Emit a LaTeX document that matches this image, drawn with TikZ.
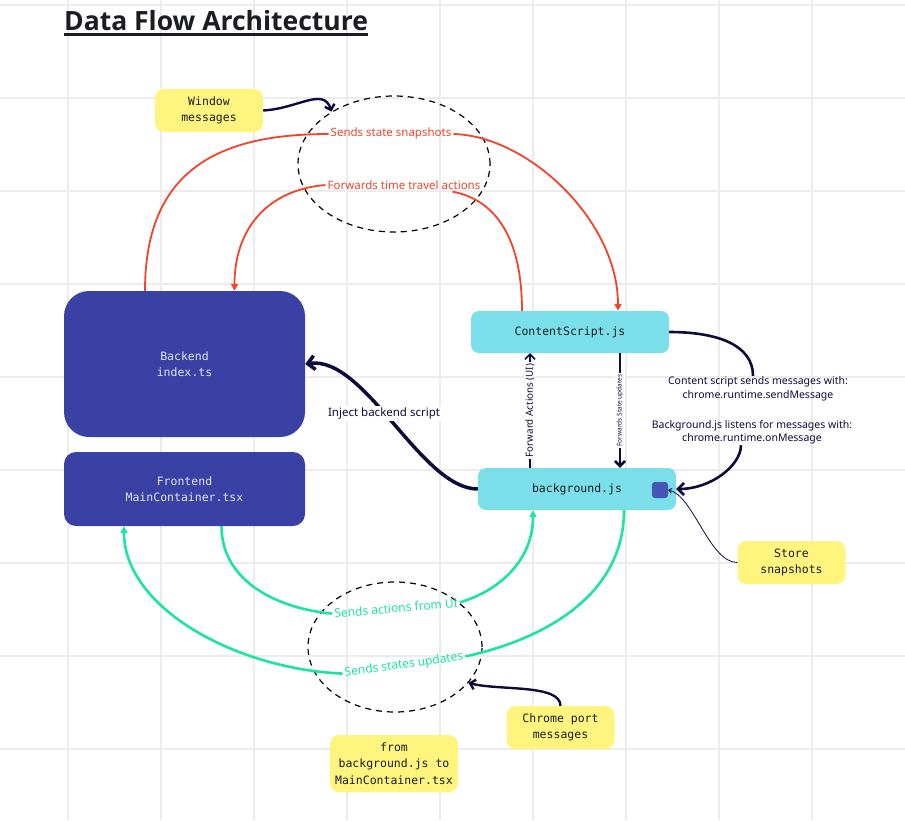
\documentclass[tikz,border=0pt]{standalone}
\usepackage{fontspec}
\setmainfont{Noto Sans}
\newfontfamily\codefont{DejaVu Sans Mono}
\newfontfamily\titlefont{Open Sans}
\usetikzlibrary{shapes.geometric,arrows.meta}

\definecolor{Indigo}{HTML}{3A41A5}
\definecolor{DarkText}{HTML}{E4E6F6}
\definecolor{Cyan}{HTML}{7ADFE8}
\definecolor{Yellow}{HTML}{FFF47E}
\definecolor{Ink}{HTML}{1C1C24}
\definecolor{Red}{HTML}{F5432B}
\definecolor{Green}{HTML}{1DE3A6}
\definecolor{Navy}{HTML}{0D0B3A}
\definecolor{Blue}{HTML}{4556B5}
\definecolor{Grid}{HTML}{ECECEC}

\newcommand{\Code}{\codefont\fontsize{11.5pt}{16pt}\selectfont}
\newcommand{\LabelFont}{\fontsize{11.5pt}{13pt}\selectfont}
\newcommand{\MsgFont}{\fontsize{10.5pt}{13.5pt}\selectfont}

\begin{document}
\begin{tikzpicture}[x=1pt,y=-1pt]
	\tikzstyle{Dark} = [rectangle, minimum width=241pt, align=center, fill=Indigo, text=DarkText, font=\Code]
	\tikzstyle{Box} = [rectangle, rounded corners=8pt, minimum width=198pt, minimum height=42pt, fill=Cyan, text=Ink, font=\Code]
	\tikzstyle{Note} = [rectangle, rounded corners=9pt, minimum width=108pt, minimum height=43pt, align=center, fill=Yellow, text=Ink, font=\Code]
	\tikzstyle{Cloud} = [ellipse, draw=black, line width=1.2pt, dash pattern=on 6pt off 5pt]
	\tikzstyle{Label} = [font=\LabelFont, inner sep=2pt]
	\tikzstyle{Msg} = [font=\MsgFont, text=Navy, align=center, inner sep=1pt]
	\tikzstyle{redline} = [line width=1.8pt, draw=Red]
	\tikzstyle{greenline} = [line width=2.6pt, draw=Green]
	\tikzstyle{arrow} = [-{Triangle[length=7pt,width=7pt]}]
	\tikzstyle{navy} = [draw=Navy, -{Straight Barb[length=5pt,width=10pt]}]
	
	\useasboundingbox[fill=white] (0,0) rectangle (905,820);
	\foreach \x in {68,161,...,813} \draw[Grid, line width=1.2pt] (\x,0) -- (\x,820);
	\foreach \y in {5,98,...,749} \draw[Grid, line width=1.2pt] (0,\y) -- (905,\y);
	
	\node (title) [anchor=base west, inner sep=0pt, text=Ink, font=\titlefont\bfseries\fontsize{26.5pt}{30pt}\selectfont] at (64,30) {Data Flow Architecture};
	\draw[line width=2.4pt, Ink] ([yshift=-4.5pt]title.base west) -- ([yshift=-4.5pt]title.base east);
	
	\node (window) [Note] at (209,110.5) {Window\\messages};
	\node (backend) [Dark, minimum height=146pt, rounded corners=25pt] at (184.5,364) {Backend\\index.ts};
	\node (frontend) [Dark, minimum height=74pt, rounded corners=12pt] at (184.5,489) {Frontend\\MainContainer.tsx};
	\node (content) [Box] at (570,332) {ContentScript.js};
	\node (background) [Box] at (577,489) {background.js};
	\node (square) [rectangle, rounded corners=3pt, minimum size=16pt, fill=Blue] at (660,490) {};
	\node (store) [Note] at (791.5,562.5) {Store\\snapshots};
	\node (chrome) [Note] at (560.5,727.5) {Chrome port\\messages};
	\node (route) [Note, minimum width=128pt, minimum height=57pt, font=\codefont\fontsize{11.5pt}{16.5pt}\selectfont] at (394,763.5) {from\\background.js to\\MainContainer.tsx};
	
	\node (topcloud) [Cloud, minimum width=192pt, minimum height=136pt] at (394,164) {};
	\node (botcloud) [Cloud, minimum width=174pt, minimum height=130pt] at (395,647) {};
	
	\node (snap) [Label, text=Red] at (391,134) {Sends state snapshots};
	\node (travel) [Label, text=Red] at (404,185) {Forwards time travel actions};
	\node (uiact) [Label, text=Green, rotate=5, font=\fontsize{12pt}{13pt}\selectfont] at (396,608) {Sends actions from UI};
	\node (update) [Label, text=Green, rotate=8, font=\fontsize{12pt}{13pt}\selectfont] at (404,665) {Sends states updates};
	\node (send) [Msg] at (758,389) {Content script sends messages with:\\chrome.runtime.sendMessage};
	\node (listen) [Msg] at (752,432) {Background.js listens for messages with:\\chrome.runtime.onMessage};
	
	% window messages
	\draw[navy, line width=2.4pt] (window.east) .. controls +(35,-2) and +(-8,-25) .. (topcloud.140);
	
	% red flows
	\draw[redline] ([xshift=-39.5pt]backend.north) .. controls +(0,-121) and +(-110,0) .. (snap.west);
	\draw[redline, arrow] (snap.east) .. controls +(75,2) and +(0,-90) .. ([xshift=48pt]content.north);
	\draw[redline] ([xshift=-48pt]content.north) .. controls +(0,-81) and +(37,7) .. ([xshift=-30pt]travel.south east);
	\draw[redline, arrow] (travel.west) .. controls +(-60,5) and +(0,-60) .. ([xshift=50pt]backend.north);
	
	% navy flows
	\draw[draw=Navy, line width=3.5pt, -{Straight Barb[length=7pt,width=14pt]}] (background.west) .. controls +(-57,0) and +(60,-9) .. (backend.east)
		node[pos=0.55, fill=white, text=Navy, font=\fontsize{11.5pt}{13pt}\selectfont, inner sep=2pt] {Inject backend script};
	\draw[navy, line width=1.6pt] ([xshift=-47pt]background.north) -- node[fill=white, rotate=90, text=Navy, font=\fontsize{9.8pt}{11pt}\selectfont, inner sep=1.5pt] {Forward Actions (UI)} ([xshift=-40pt]content.south);
	\draw[navy, line width=2.6pt] ([xshift=50pt]content.south) -- node[fill=white, rotate=90, text=Navy, font=\fontsize{6.5pt}{8pt}\selectfont, inner sep=1.5pt] {Forwards State updates} ([xshift=43pt]background.north);
	\draw[draw=Navy, line width=2.6pt] (content.east) .. controls +(50,0) and +(0,-30) .. ([xshift=-5pt]send.north);
	\draw[navy, line width=2.6pt, -{Straight Barb[length=6pt,width=12pt]}] ([xshift=-11pt]listen.south) .. controls +(0,20) and +(35,0) .. (background.east);
	\draw[navy, line width=0.8pt, -{Straight Barb[length=3pt,width=5pt]}] (store.west) .. controls +(-28,0) and +(25,5) .. (square.east);
	
	% green flows
	\draw[greenline] ([xshift=37pt]frontend.south) .. controls +(0,55) and +(-55,-5) .. (uiact.west);
	\draw[greenline, arrow] (uiact.east) .. controls +(40,-12) and +(0,50) .. ([xshift=-44pt]background.south);
	\draw[greenline] ([xshift=47pt]background.south) .. controls +(0,90) and +(70,-15) .. (update.east);
	\draw[greenline, arrow] (update.west) .. controls +(-110,-5) and +(0,80) .. ([xshift=-60.5pt]frontend.south);
	
	% chrome port messages
	\draw[navy, line width=2.4pt] (chrome.north) .. controls +(0,-22) and +(30,8) .. (botcloud.334);
\end{tikzpicture}
\end{document}
